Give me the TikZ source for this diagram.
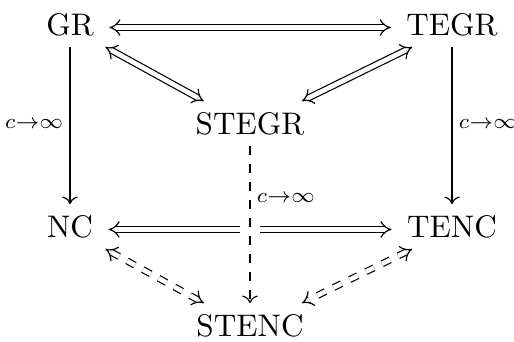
\documentclass[tikz,border=0pt]{standalone}
\usetikzlibrary{arrows.meta}
\begin{document}
\begin{tikzpicture}[x=0.3333pt, y=-0.3333pt,
  obj/.style={anchor=base, font=\fontsize{10.4pt}{12pt}\selectfont, text height=7pt, text depth=2pt, inner xsep=5pt, inner ysep=1.8pt, outer sep=0.2pt},
  dbl/.style={double, double equal sign distance, line width=0.4pt},
  biarrow/.style={dbl, {Implies}-{Implies}},
  sgl/.style={-{Computer Modern Rightarrow}, line width=0.4pt},
  lbl/.style={inner sep=2pt, execute at begin node=$\scriptstyle, execute at end node=$}
]
\useasboundingbox (0,0) rectangle (514,341);
\node[obj] (gr) at (70,35) {GR};
\node[obj] (tegr) at (452,35) {TEGR};
\node[obj] (stegr) at (250,134) {STEGR};
\node[obj] (nc) at (70,237) {NC};
\node[obj] (tenc) at (452,237) {TENC};
\node[obj] (stenc) at (250,336) {STENC};

\draw[biarrow] (gr) -- (tegr);
\draw[biarrow, shorten >=4.1pt] (gr) -- (stegr);
\draw[biarrow, shorten >=4.5pt] (tegr) -- (stegr);
\draw[sgl, shorten >=2pt] (gr) -- (nc) node[lbl, pos=0.47, left] {c\to\infty};
\draw[sgl, shorten >=2pt] (tegr) -- (tenc) node[lbl, pos=0.47, right] {c\to\infty};
\draw[biarrow] (nc) -- (tenc);
\draw[white, line width=6.46pt, shorten >=2pt] (stegr) -- (stenc);
\draw[sgl, dashed, shorten >=2pt] (stegr) -- (stenc) node[lbl, pos=0.32, right] {c\to\infty};
\draw[biarrow, dashed, shorten >=4.1pt] (nc) -- (stenc);
\draw[biarrow, dashed, shorten >=4.5pt] (tenc) -- (stenc);
\end{tikzpicture}
\end{document}
